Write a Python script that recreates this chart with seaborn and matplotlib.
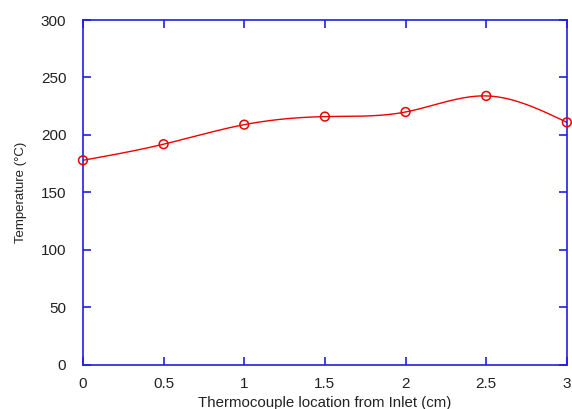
import numpy as np
import pandas as pd
import matplotlib
matplotlib.use("Agg")
import matplotlib.pyplot as plt
import seaborn as sns

location_cm = [0.0, 0.5, 1.0, 1.5, 2.0, 2.5, 3.0]
temperature_c = [178, 192, 209, 216, 220, 234, 211]
x_ticks = [0, 0.5, 1, 1.5, 2, 2.5, 3]
x_tick_labels = ["0", "0.5", "1", "1.5", "2", "2.5", "3"]
y_ticks = [0, 50, 100, 150, 200, 250, 300]


def natural_spline(x, y, n=300):
    x = np.asarray(x, float)
    y = np.asarray(y, float)
    k = len(x)
    h = np.diff(x)
    A = np.zeros((k, k))
    b = np.zeros(k)
    A[0, 0] = 1
    A[-1, -1] = 1
    for i in range(1, k - 1):
        A[i, i - 1] = h[i - 1]
        A[i, i] = 2 * (h[i - 1] + h[i])
        A[i, i + 1] = h[i]
        b[i] = 6 * ((y[i + 1] - y[i]) / h[i] - (y[i] - y[i - 1]) / h[i - 1])
    M = np.linalg.solve(A, b)
    xs = np.linspace(x[0], x[-1], n)
    ys = np.empty_like(xs)
    for j, xv in enumerate(xs):
        i = min(np.searchsorted(x, xv, side="right") - 1, k - 2)
        t1 = x[i + 1] - xv
        t0 = xv - x[i]
        ys[j] = (M[i] * t1**3 + M[i + 1] * t0**3) / (6 * h[i]) \
            + (y[i] / h[i] - M[i] * h[i] / 6) * t1 \
            + (y[i + 1] / h[i] - M[i + 1] * h[i] / 6) * t0
    return xs, ys


sns.set_theme(style="white")
plt.rcParams["font.family"] = ["Liberation Sans", "DejaVu Sans"]

fig = plt.figure(figsize=(5.72, 4.09), dpi=100)
ax = fig.add_axes([0.145, 0.1076, 0.846, 0.8435])

xs, ys = natural_spline(location_cm, temperature_c)
curve = pd.DataFrame({"x": xs, "y": ys})
pts = pd.DataFrame({"x": location_cm, "y": temperature_c})

red = "#ee0000"
sns.lineplot(data=curve, x="x", y="y", ax=ax, color=red, linewidth=1.0, sort=False)
sns.scatterplot(data=pts, x="x", y="y", ax=ax, marker="o", s=40,
                facecolor="none", edgecolor=red, linewidth=1.1, zorder=3,
                clip_on=False)

ax.set_xlim(0, 3)
ax.set_ylim(0, 300)
ax.set_xticks(x_ticks)
ax.set_xticklabels(x_tick_labels)
ax.set_yticks(y_ticks)

blue = "#2020e0"
for s in ax.spines.values():
    s.set_color(blue)
    s.set_linewidth(1.2)
    s.set_visible(True)
ax.tick_params(axis="both", which="both", direction="in", length=6, width=1.2,
               color=blue, labelcolor="#222222", labelsize=11,
               top=True, right=True, bottom=True, left=True, pad=12)
ax.tick_params(axis="x", pad=9)

ax.set_xlabel("Thermocouple location from Inlet (cm)", fontsize=10.8, color="#222222", labelpad=3)
ax.set_ylabel("Temperature (°C)", fontsize=9.5, color="#222222", labelpad=10)
ax.grid(False)

fig.savefig("out.png", dpi=100, facecolor="white")
